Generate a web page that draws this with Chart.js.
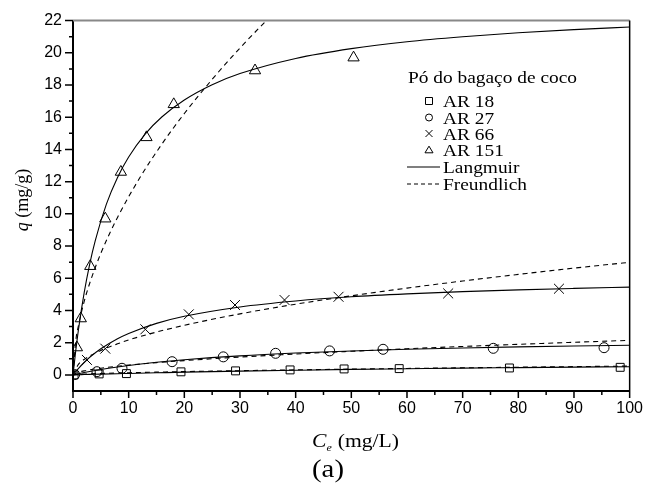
<!DOCTYPE html>
<html>
<head>
<meta charset="utf-8">
<script src="https://cdn.jsdelivr.net/npm/chart.js@4"></script>
<style>
  body { margin: 0; background: #fff; }
  #wrap { width: 651px; height: 485px; }
</style>
</head>
<body>
<div id="wrap"><canvas id="chart" width="651" height="485"></canvas></div>
<script>
// experimental points (Ce in mg/L, q in mg/g)
const ar18X = [0.2, 4.7, 9.6, 19.4, 29.2, 39.0, 48.7, 58.6, 78.4, 98.3];
const ar18Y = [0.0, 0.06, 0.08, 0.19, 0.25, 0.31, 0.37, 0.39, 0.43, 0.47];
const ar27X = [0.3, 4.3, 8.8, 17.8, 27.0, 36.4, 46.1, 55.7, 75.5, 95.4];
const ar27Y = [0.02, 0.2, 0.41, 0.82, 1.12, 1.34, 1.49, 1.59, 1.65, 1.69];
const ar66X = [2.5, 5.8, 13.0, 20.8, 29.1, 38.0, 47.7, 67.4, 87.3];
const ar66Y = [0.93, 1.63, 2.83, 3.76, 4.34, 4.65, 4.85, 5.06, 5.35];
const ar151X = [0.7, 1.4, 3.1, 5.8, 8.6, 13.2, 18.1, 32.7, 50.4];
const ar151Y = [1.7, 3.5, 6.75, 9.7, 12.6, 14.75, 16.8, 18.9, 19.7];

// fitted curves
const fitX = [0, 1, 2, 3, 5, 8, 10, 15, 20, 30, 40, 50, 60, 70, 80, 90, 100];
const lang18 = [0, 0.01, 0.02, 0.03, 0.05, 0.075, 0.09, 0.13, 0.17, 0.235, 0.29, 0.34, 0.38, 0.42, 0.45, 0.48, 0.51];
const freu18 = [0, 0.033, 0.05, 0.065, 0.088, 0.118, 0.134, 0.172, 0.205, 0.263, 0.313, 0.359, 0.401, 0.44, 0.478, 0.514, 0.548];
const lang27 = [0, 0.075, 0.145, 0.21, 0.333, 0.492, 0.585, 0.783, 0.942, 1.183, 1.356, 1.486, 1.588, 1.67, 1.737, 1.793, 1.84];
const freu27 = [0, 0.172, 0.251, 0.314, 0.416, 0.537, 0.607, 0.759, 0.888, 1.109, 1.298, 1.467, 1.622, 1.765, 1.899, 2.025, 2.145];
const lang66 = [0, 0.41, 0.77, 1.09, 1.62, 2.24, 2.57, 3.2, 3.64, 4.22, 4.59, 4.85, 5.03, 5.17, 5.28, 5.37, 5.45];
const freu66 = [0, 0.671, 0.955, 1.174, 1.52, 1.93, 2.17, 2.66, 3.08, 3.79, 4.39, 4.91, 5.39, 5.83, 6.24, 6.63, 6.99];
const lang151X = [0, 0.5, 1, 2, 3, 4, 6, 8, 10, 13, 16, 20, 25, 30, 40, 50, 60, 70, 80, 90, 100];
const lang151 = [0, 1.52, 2.86, 5.09, 6.88, 8.34, 10.6, 12.26, 13.53, 14.97, 16.03, 17.07, 18.02, 18.71, 19.65, 20.26, 20.69, 21.0, 21.25, 21.44, 21.6];
const freu151X = [0, 0.5, 1, 2, 3, 5, 8, 12, 16, 20, 25, 30, 35];
const freu151 = [0, 2.12, 3.1, 4.55, 5.69, 7.55, 9.78, 12.24, 14.35, 16.23, 18.35, 20.3, 22.1];

const xTicks = [0, 10, 20, 30, 40, 50, 60, 70, 80, 90, 100];
const yTicks = [0, 2, 4, 6, 8, 10, 12, 14, 16, 18, 20, 22];

const legendTitle = "Pó do bagaço de coco";
const seriesNames = ["AR 18", "AR 27", "AR 66", "AR 151"];
const fitNames = ["Langmuir", "Freundlich"];

const pts = (xs, ys) => xs.map((x, i) => ({ x: x, y: ys[i] }));

function markerSet(label, xs, ys, style, r) {
  return {
    label: label, data: pts(xs, ys), showLine: false,
    pointStyle: style, pointRadius: r, pointHoverRadius: r,
    pointBorderColor: "#000", pointBackgroundColor: "rgba(0,0,0,0)", pointBorderWidth: 1
  };
}
function fitSet(label, xs, ys, dashed) {
  return {
    label: label, data: pts(xs, ys), showLine: true, pointRadius: 0,
    borderColor: "#000", borderWidth: 1.1, borderDash: dashed ? [5, 4] : [],
    cubicInterpolationMode: "monotone", fill: false
  };
}

const SERIF = "'Liberation Serif', 'Times New Roman', serif";

// the original figure is a bit stretched sideways, so text gets a small x-scale
function wideText(ctx, txt, x, y, sx) {
  ctx.save();
  ctx.translate(x, y);
  ctx.scale(sx, 1);
  ctx.fillText(txt, 0, 0);
  ctx.restore();
  return ctx.measureText(txt).width * sx;
}

function drawMarker(ctx, style, x, y, s) {
  ctx.beginPath();
  if (style === "rect") ctx.rect(x - s, y - s, 2 * s, 2 * s);
  else if (style === "circle") ctx.arc(x, y, s, 0, Math.PI * 2);
  else if (style === "crossRot") { ctx.moveTo(x - s, y - s); ctx.lineTo(x + s, y + s); ctx.moveTo(x + s, y - s); ctx.lineTo(x - s, y + s); }
  else if (style === "triangle") { ctx.moveTo(x, y - s * 1.1); ctx.lineTo(x + s * 1.15, y + s * 0.8); ctx.lineTo(x - s * 1.15, y + s * 0.8); ctx.closePath(); }
  ctx.stroke();
}

const decor = {
  id: "decor",
  afterDraw(chart) {
    const ctx = chart.ctx;
    const a = chart.chartArea;
    const xs = chart.scales.x, ys = chart.scales.y;
    ctx.save();
    ctx.strokeStyle = "#000";
    // frame
    ctx.lineWidth = 2;
    ctx.beginPath();
    ctx.moveTo(a.left, a.top); ctx.lineTo(a.left, a.bottom); ctx.lineTo(a.right, a.bottom);
    ctx.stroke();
    ctx.strokeStyle = "#888";
    ctx.beginPath(); ctx.moveTo(a.left, a.top); ctx.lineTo(a.right, a.top); ctx.stroke();
    ctx.strokeStyle = "#000";
    ctx.lineWidth = 1.5;
    ctx.beginPath(); ctx.moveTo(a.right, a.top); ctx.lineTo(a.right, a.bottom); ctx.stroke();
    // ticks
    ctx.lineWidth = 1.5;
    ctx.beginPath();
    for (let v = 0; v <= 100; v += 5) {
      const px = xs.getPixelForValue(v);
      const len = v % 10 === 0 ? 7 : 4;
      ctx.moveTo(px, a.bottom); ctx.lineTo(px, a.bottom + len);
    }
    for (let v = 0; v <= 22; v += 1) {
      const py = ys.getPixelForValue(v);
      const len = v % 2 === 0 ? 8 : 4;
      ctx.moveTo(a.left, py); ctx.lineTo(a.left - len, py);
    }
    ctx.stroke();

    // axis titles
    ctx.fillStyle = "#000";
    ctx.textBaseline = "alphabetic";
    ctx.textAlign = "left";
    ctx.save();
    ctx.translate(28, 200);
    ctx.rotate(-Math.PI / 2);
    ctx.font = "italic 18px " + SERIF;
    const qW = ctx.measureText("q").width;
    ctx.font = "18px " + SERIF;
    const restW = ctx.measureText(" (mg/g)").width;
    let sx = -(qW + restW) / 2;
    ctx.font = "italic 18px " + SERIF;
    ctx.fillText("q", sx, 0);
    ctx.font = "18px " + SERIF;
    ctx.fillText(" (mg/g)", sx + qW, 0);
    ctx.restore();

    ctx.font = "italic 18px " + SERIF;
    const cW = wideText(ctx, "C", 312, 447, 1.2);
    ctx.font = "italic 10px " + SERIF;
    wideText(ctx, "e", 312 + cW, 451, 1.2);
    ctx.font = "18px " + SERIF;
    wideText(ctx, " (mg/L)", 312 + cW + 6, 447, 1.2);

    ctx.font = "25px " + SERIF;
    const aW = ctx.measureText("(a)").width * 1.15;
    wideText(ctx, "(a)", 328 - aW / 2, 477, 1.15);

    // legend
    ctx.font = "17px " + SERIF;
    wideText(ctx, legendTitle, 408, 83, 1.14);
    const styles = ["rect", "circle", "crossRot", "triangle"];
    const rows = [101, 117.5, 133.5, 150];
    ctx.lineWidth = 1;
    for (let i = 0; i < 4; i++) {
      drawMarker(ctx, styles[i], 429, rows[i], 3.5);
      wideText(ctx, seriesNames[i], 443, rows[i] + 6, 1.14);
    }
    ctx.lineWidth = 1.1;
    ctx.beginPath(); ctx.moveTo(407, 167); ctx.lineTo(440, 167); ctx.stroke();
    wideText(ctx, fitNames[0], 443, 173, 1.14);
    ctx.setLineDash([4, 3]);
    ctx.beginPath(); ctx.moveTo(407, 184); ctx.lineTo(440, 184); ctx.stroke();
    ctx.setLineDash([]);
    wideText(ctx, fitNames[1], 443, 190, 1.14);
    ctx.restore();
  }
};

new Chart(document.getElementById("chart"), {
  type: "scatter",
  data: {
    datasets: [
      fitSet("Langmuir AR 18", fitX, lang18, false),
      fitSet("Freundlich AR 18", fitX, freu18, true),
      fitSet("Langmuir AR 27", fitX, lang27, false),
      fitSet("Freundlich AR 27", fitX, freu27, true),
      fitSet("Langmuir AR 66", fitX, lang66, false),
      fitSet("Freundlich AR 66", fitX, freu66, true),
      fitSet("Langmuir AR 151", lang151X, lang151, false),
      fitSet("Freundlich AR 151", freu151X, freu151, true),
      markerSet(seriesNames[0], ar18X, ar18Y, "rect", 5.6),
      markerSet(seriesNames[1], ar27X, ar27Y, "circle", 5),
      markerSet(seriesNames[2], ar66X, ar66Y, "crossRot", 7),
      markerSet(seriesNames[3], ar151X, ar151Y, "triangle", 6.5)
    ]
  },
  options: {
    responsive: false,
    animation: false,
    layout: { padding: { top: 19, right: 16, left: 0, bottom: 0 } },
    plugins: { legend: { display: false }, tooltip: { enabled: false } },
    scales: {
      x: {
        type: "linear", min: 0, max: 100,
        afterFit: (s) => { s.height = 94; },
        afterBuildTicks: (s) => { s.ticks = xTicks.map((v) => ({ value: v })); },
        grid: { display: false, drawTicks: false },
        border: { display: false },
        ticks: { padding: 8, color: "#000", font: { family: "'Liberation Sans', Arial, sans-serif", size: 16 } }
      },
      y: {
        type: "linear", min: -1, max: 22,
        afterFit: (s) => { s.width = 73; },
        afterBuildTicks: (s) => { s.ticks = yTicks.map((v) => ({ value: v })); },
        grid: { display: false, drawTicks: false },
        border: { display: false },
        ticks: { padding: 11, color: "#000", font: { family: "'Liberation Sans', Arial, sans-serif", size: 16 } }
      }
    }
  },
  plugins: [decor]
});
</script>
</body>
</html>
